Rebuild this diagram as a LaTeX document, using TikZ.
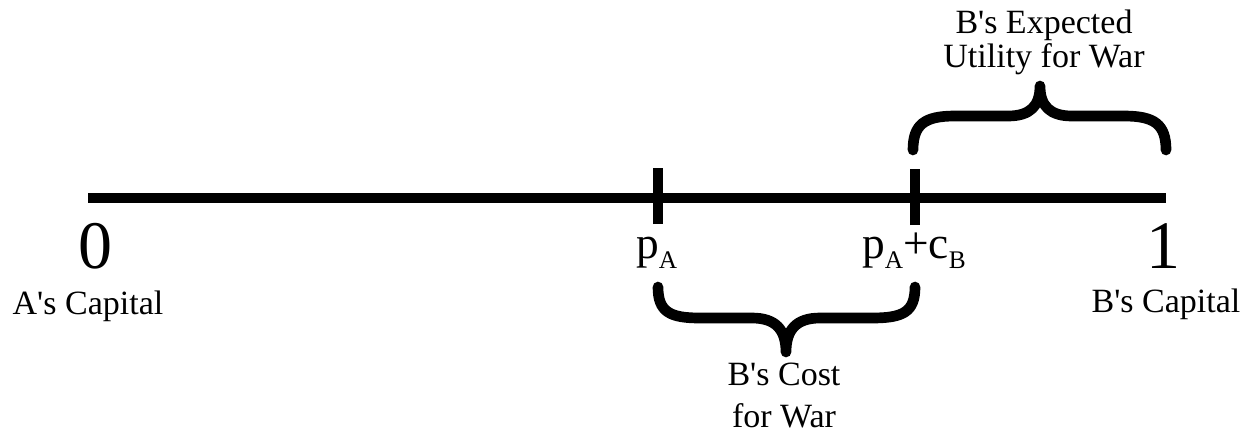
\documentclass[tikz,border=0pt]{standalone}
\usepackage{fontspec}
\setmainfont{Liberation Serif}
\newcommand\lowsub[1]{\raisebox{-7.5pt}{\fontsize{19pt}{20pt}\selectfont #1}}
\newcommand\apo{\textquotesingle}
\tikzset{
  axisline/.style={line width=7.5pt},
  tickmark/.style={line width=7.5pt},
  bracepath/.style={line width=8pt, line cap=round, line join=round},
  digit/.style={anchor=base, inner sep=0pt, font=\fontsize{51pt}{51pt}\selectfont},
  caption/.style={anchor=base, inner sep=0pt, font=\fontsize{25.5pt}{25.5pt}\selectfont},
  plabel/.style={anchor=base west, inner sep=0pt, font=\fontsize{34pt}{34pt}\selectfont},
  bracelabel/.style={anchor=base, inner sep=0pt, align=center},
}
\begin{document}
\begin{tikzpicture}[x=0.75pt,y=-0.75pt]
\useasboundingbox (0,0) rectangle (1253,433);
% axis
\coordinate (zero) at (88,198);
\coordinate (one) at (1166,198);
\coordinate (pA) at (658,198);
\coordinate (pAcB) at (915,198);
\draw[axisline] (zero) -- (one);
\draw[tickmark] ([yshift=-26*0.75pt]pA) -- ([yshift=30*0.75pt]pA);
\draw[tickmark] ([yshift=-27*0.75pt]pAcB) -- ([yshift=29*0.75pt]pAcB);
% labels
\node[digit] (lzero) at (95,268) {0};
\node[digit] (lone) at (1163,268) {1};
\node[caption] (acap) at (88,314) {A\apo s Capital};
\node[caption] (bcap) at (1166,312) {B\apo s Capital};
\node[plabel] (lpA) at (636,258) {p\lowsub{A}};
\node[plabel] (lpAcB) at (862,258) {p\lowsub{A}+c\lowsub{B}};
% bottom brace
\coordinate (bl) at (658,287);
\coordinate (br) at (915,287);
\coordinate (btip) at (786,352);
\draw[bracepath] (bl) .. controls (658,312) and (670,318) .. (700,318) -- (752,318)
  .. controls (776,318) and (786,330) .. (btip)
  .. controls (786,330) and (796,318) .. (820,318) -- (872,318)
  .. controls (903,318) and (915,312) .. (br);
\node[bracelabel, font=\fontsize{25.5pt}{31.5pt}\selectfont] (cost) at (784,427) {B\apo s Cost\\for War};
% top brace
\coordinate (tl) at (913,150);
\coordinate (tr) at (1166,150);
\coordinate (ttip) at (1040,86);
\draw[bracepath] (tl) .. controls (913,124) and (925,116) .. (955,116) -- (1008,116)
  .. controls (1030,116) and (1040,106) .. (ttip)
  .. controls (1040,106) and (1050,116) .. (1072,116) -- (1124,116)
  .. controls (1154,116) and (1166,124) .. (tr);
\node[bracelabel, font=\fontsize{25.5pt}{25.5pt}\selectfont] (eu) at (1044,67) {B\apo s Expected\\Utility for War};
\end{tikzpicture}
\end{document}
